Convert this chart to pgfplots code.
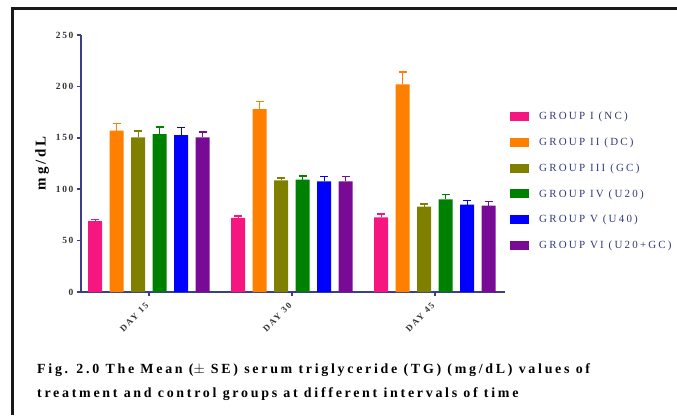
\documentclass[border=0pt]{standalone}
\usepackage{pgfplots}
\pgfplotsset{compat=1.18}
\usepackage{fontspec}
\setmainfont{Liberation Serif}
\newfontfamily\spc[LetterSpace=18]{Liberation Serif}
\newfontfamily\spcl[LetterSpace=20]{Liberation Serif}
\newfontfamily\spcc[LetterSpace=19.5]{Liberation Serif}
\definecolor{axc}{HTML}{3B3F86}
\definecolor{legc}{HTML}{2F3A7A}
\definecolor{tkc}{HTML}{333333}
\definecolor{cpink}{HTML}{F5177F}
\definecolor{corange}{HTML}{FF8000}
\definecolor{colive}{HTML}{808000}
\definecolor{cgreen}{HTML}{008000}
\definecolor{cblue}{HTML}{0000FF}
\definecolor{cpurple}{HTML}{780A96}
\pgfplotsset{
  sw/.style={fill=#1, draw=none,
    error bars/.cd, y dir=plus, y explicit,
    error bar style={color=#1, line width=1.3bp},
    error mark options={rotate=90, mark size=4bp, line width=1.3bp, color=#1},
    /pgfplots/.cd,
    legend image code/.code={\fill[#1] (0bp,-4.5bp) rectangle (19bp,4.5bp);}},
}
\begin{document}
\begin{tikzpicture}[x=1bp,y=1bp]
\useasboundingbox (0,0) rectangle (677,415);
\draw[line width=3bp, line join=miter, black!90] (12.5,0) -- (12.5,406.5) -- (677,406.5);
\begin{axis}[
  at={(81bp,123bp)}, anchor=south west,
  scale only axis, width=424bp, height=257bp,
  axis lines=left, axis line style={-, color=axc, line width=1.5bp},
  xmin=-0.4755, xmax=2.49, ymin=0, ymax=250,
  ybar=7.5bp, bar width=14bp,
  xtick={0,1,2}, xticklabels={DAY 15,DAY 30,DAY 45},
  ytick={0,50,100,150,200,250},
  tick align=outside, major tick length=4bp,
  tick style={color=axc, line width=1.5bp},
  /pgf/number format/assume math mode=true,
  yticklabel style={font=\spc\bfseries\fontsize{9.5}{10}\selectfont, text=tkc, xshift=0bp},
  xticklabel style={font=\spc\bfseries\fontsize{9}{9}\selectfont, text=tkc, xshift=-4bp, yshift=-6bp, rotate=45, anchor=north east, inner sep=0bp},
  ylabel={mg/dL},
  ylabel style={at={(axis description cs:-0.092,0.5)}, anchor=center, font=\spc\bfseries\fontsize{15}{16}\selectfont},
  legend style={at={(rel axis cs:1.0118,0.70)}, anchor=north west, draw=none, fill=none,
    font=\spcl\fontsize{11}{12}\selectfont, text=legc, row sep=16.6bp, inner sep=0pt,
    nodes={inner xsep=10bp, inner ysep=0pt}},
  legend cell align=left,
  clip=false,
]
\addplot[sw=cpink] coordinates {(0,69) +- (0,1.3) (1,72) +- (0,2) (2,72.5) +- (0,3.5)};
\addplot[sw=corange] coordinates {(0,157) +- (0,7) (1,178) +- (0,7) (2,202) +- (0,12)};
\addplot[sw=colive] coordinates {(0,150.5) +- (0,6) (1,108.5) +- (0,2.5) (2,83) +- (0,2.5)};
\addplot[sw=cgreen] coordinates {(0,153.5) +- (0,7) (1,109.3) +- (0,3.5) (2,90) +- (0,5)};
\addplot[sw=cblue] coordinates {(0,152.7) +- (0,7) (1,107.5) +- (0,5) (2,85) +- (0,4)};
\addplot[sw=cpurple] coordinates {(0,150.5) +- (0,5) (1,107.5) +- (0,5) (2,84) +- (0,4)};
\legend{GROUP I (NC),GROUP II (DC),GROUP III (GC),GROUP IV (U20),GROUP V (U40),GROUP VI (U20+GC)}
\end{axis}
\node[anchor=base west, font=\spcc\bfseries\fontsize{14}{15}\selectfont, inner sep=0pt] at (37,42) {Fig. 2.0 The Mean ($\pm$ SE) serum triglyceride (TG) (mg/dL) values of};
\node[anchor=base west, font=\spcc\bfseries\fontsize{14}{15}\selectfont, inner sep=0pt] at (37,18) {treatment and control groups at different intervals of time};
\end{tikzpicture}
\end{document}
